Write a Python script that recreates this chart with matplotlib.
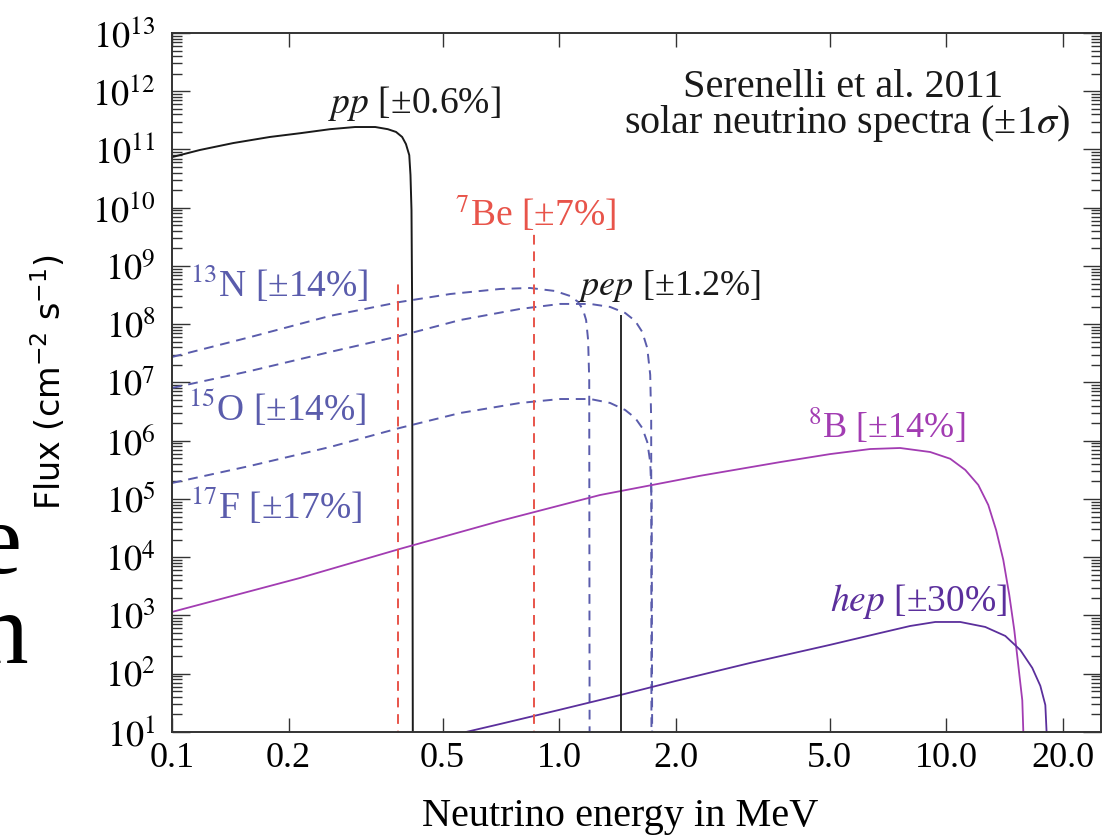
import matplotlib
matplotlib.use("Agg")
import matplotlib.pyplot as plt
import numpy as np
from matplotlib.ticker import FixedLocator, LogLocator, NullFormatter, NullLocator

plt.rcParams['font.family'] = ['Liberation Serif', 'DejaVu Serif']
plt.rcParams['mathtext.fontset'] = 'stix'

# continuum spectra, energy in MeV, flux in cm^-2 s^-1 (MeV^-1)
pp_energy = [0.100, 0.118, 0.144, 0.179, 0.214, 0.256, 0.297, 0.335, 0.361, 0.379,
             0.393, 0.402, 0.410, 0.413, 0.4155, 0.417, 0.419]
pp_flux = [7.4e10, 9.8e10, 1.29e11, 1.64e11, 1.9e11, 2.23e11, 2.43e11, 2.43e11, 2.23e11, 2.0e11,
           1.64e11, 1.24e11, 8.0e10, 3.65e10, 9.1e9, 2.6e8, 1.0]

n13_energy = [0.100, 0.159, 0.256, 0.388, 0.523, 0.704, 0.841, 0.976, 1.068, 1.120,
              1.153, 1.174, 1.188, 1.196, 1.199]
n13_flux = [2.74e7, 6.0e7, 1.39e8, 2.41e8, 3.3e8, 4.03e8, 4.19e8, 3.72e8, 3.05e8, 2.41e8,
            1.76e8, 1.18e8, 5.4e7, 1.1e7, 1.0]

o15_energy = [0.100, 0.159, 0.256, 0.388, 0.555, 0.793, 1.006, 1.203, 1.354, 1.481,
              1.572, 1.639, 1.689, 1.719, 1.729, 1.732]
o15_flux = [8.05e6, 1.57e7, 3.34e7, 6.3e7, 1.18e8, 1.83e8, 2.23e8, 2.23e8, 1.98e8, 1.56e8,
            1.14e8, 7.4e7, 3.9e7, 1.35e7, 2.27e6, 1.0]

f17_energy = [0.100, 0.159, 0.256, 0.388, 0.555, 0.793, 1.006, 1.203, 1.354, 1.481,
              1.572, 1.639, 1.689, 1.719, 1.734, 1.740]
f17_flux = [1.88e5, 3.69e5, 7.8e5, 1.66e6, 2.99e6, 4.45e6, 5.2e6, 5.2e6, 4.45e6, 3.37e6,
            2.46e6, 1.66e6, 9.5e5, 4.3e5, 9.6e4, 1.0]

b8_energy = [0.100, 0.214, 0.388, 0.704, 1.276, 2.314, 3.725, 5.015, 6.36, 7.60, 9.09,
             10.24, 11.20, 12.10, 12.84, 13.46, 14.04, 14.55, 14.99, 15.35, 15.72, 16.0]
b8_flux = [1.15e3, 4.4e3, 1.39e4, 4.2e4, 1.17e5, 2.5e5, 4.3e5, 5.9e5, 7.2e5, 7.5e5, 6.4e5,
           4.9e5, 3.15e5, 1.74e5, 7.9e4, 2.9e4, 9.0e3, 2.25e3, 5.6e2, 1.4e2, 35, 1.0]

hep_energy = [0.575, 0.704, 1.0, 1.438, 2.0, 3.115, 5.0, 6.75, 8.07, 9.37, 10.87,
              12.61, 14.21, 15.53, 16.68, 17.50, 18.03, 18.46]
hep_flux = [10, 13.7, 23.9, 43, 75, 153, 312, 500, 660, 773, 773,
            635, 445, 256, 126, 62, 29, 1.0]

# line sources
be7_energy = [0.384, 0.862]
be7_flux = [5.1e8, 4.0e9]
pep_energy = [1.442]
pep_flux = [1.44e8]

xticks = [0.1, 0.2, 0.5, 1.0, 2.0, 5.0, 10.0, 20.0]
xtick_labels = ['0.1', '0.2', '0.5', '1.0', '2.0', '5.0', '10.0', '20.0']
yticks = [10.0 ** k for k in range(1, 14)]
ytick_labels = [r'$10^{%d}$' % k for k in range(1, 14)]

black = '#1a1a1a'
red = '#e8544a'
blue = '#5a5cac'
magenta = '#a23cb2'
violet = '#5b2f9c'
dash = (0, (5, 3.5))

fig = plt.figure(figsize=(11.15, 8.35), dpi=100)
ax = fig.add_axes([0.1543, 0.1234, 0.8331, 0.8371])
ax.set_xscale('log')
ax.set_yscale('log')

ax.plot(pp_energy, pp_flux, color=black, lw=1.4)
ax.plot(n13_energy, n13_flux, color=blue, lw=1.4, ls=dash)
ax.plot(o15_energy, o15_flux, color=blue, lw=1.4, ls=dash)
ax.plot(f17_energy, f17_flux, color=blue, lw=1.4, ls=dash)
ax.plot(b8_energy, b8_flux, color=magenta, lw=1.3)
ax.plot(hep_energy, hep_flux, color=violet, lw=1.3)
ax.vlines(be7_energy, 1.0, be7_flux, colors=red, lw=1.4, linestyles=dash)
ax.vlines(pep_energy, 1.0, pep_flux, colors=black, lw=1.3)

ax.set_xlim(0.1, 25.1)
ax.set_ylim(1e1, 1e13)

ax.xaxis.set_major_locator(FixedLocator(xticks))
ax.set_xticklabels(xtick_labels)
ax.xaxis.set_minor_locator(NullLocator())
ax.yaxis.set_major_locator(FixedLocator(yticks))
ax.set_yticklabels(ytick_labels)
ax.yaxis.set_minor_locator(LogLocator(base=10, subs=np.arange(2, 10), numticks=100))
ax.yaxis.set_minor_formatter(NullFormatter())

ax.tick_params(which='both', direction='in', top=True, right=True,
               color='#333333', width=1.0, labelsize=26)
ax.tick_params(axis='x', which='major', length=10, pad=7)
ax.tick_params(axis='y', which='major', length=13, pad=12)
ax.tick_params(axis='y', which='minor', length=7)
for side in ax.spines.values():
    side.set_linewidth(1.4)
    side.set_color('#333333')

ax.set_xlabel('Neutrino energy in MeV', fontsize=29)
ax.xaxis.set_label_coords(0.482, -0.095)
ax.set_ylabel(r'Flux (cm$^{-2}$ s$^{-1}$)', fontsize=24, family='DejaVu Sans',
              math_fontfamily='dejavusans')
ax.yaxis.set_label_coords(-0.112, 0.5)

ax.text(0.8945, 0.9084, 'Serenelli et al. 2011', transform=ax.transAxes,
        ha='right', va='baseline', fontsize=29, color=black)
ax.text(0.9666, 0.8570, 'solar neutrino spectra (±1$\\sigma$)', transform=ax.transAxes,
        ha='right', va='baseline', fontsize=29, color=black)

lab = dict(fontsize=27, va='baseline', ha='left')
ax.text(0.253, 4.2e11, r'$pp$ [±0.6%]', color=black, **lab)
ax.text(0.539, 4.8e9, r'$^{7}$Be [±7%]', color=red, **lab)
ax.text(0.111, 2.9e8, r'$^{13}$N [±14%]', color=blue, **lab)
ax.text(1.12, 3.2e8, r'$pep$ [±1.2%]', color=black, fontsize=26, va='baseline', ha='left')
ax.text(0.110, 2.15e6, r'$^{15}$O [±14%]', color=blue, **lab)
ax.text(4.40, 1.1e6, r'$^{8}$B [±14%]', color=magenta, fontsize=26, va='baseline', ha='left')
ax.text(0.111, 4.6e4, r'$^{17}$F [±17%]', color=blue, **lab)
ax.text(5.01, 1.2e3, r'$hep$ [±30%]', color=violet, **lab)

# slide text clipped at the left edge
fig.text(22 / 1115, 1 - 573 / 835, 'e', ha='right', va='baseline', fontsize=73, color='black')
fig.text(28 / 1115, 1 - 663 / 835, 'n', ha='right', va='baseline', fontsize=73, color='black')

fig.savefig('out.png', dpi=100, facecolor='white')
